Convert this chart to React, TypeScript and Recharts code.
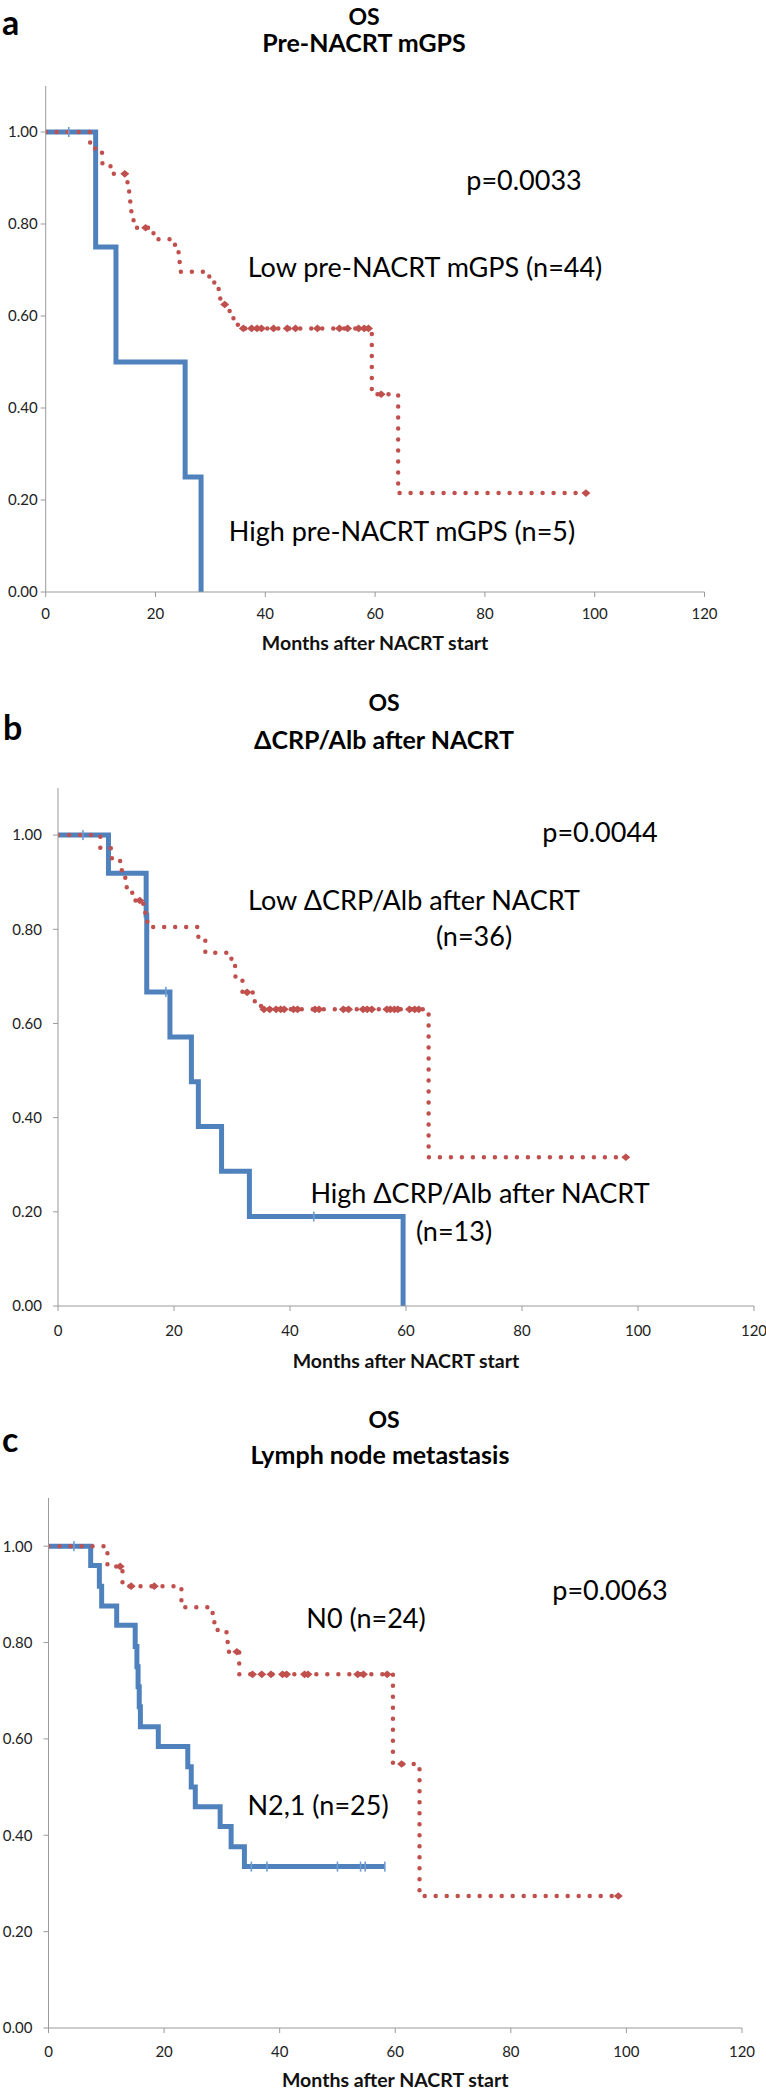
import React from 'react';
import { LineChart, Line, XAxis, YAxis } from 'recharts';

const BLUE = '#4F81BD';
const RED = '#C0504D';
const AXIS = '#9A9A9A';
const FONT = 'Lato, "Open Sans", sans-serif';

const yTicks = [0, 0.2, 0.4, 0.6, 0.8, 1.0];
const xTicks = [0, 20, 40, 60, 80, 100, 120];

// a: pre-NACRT mGPS  -- [month, survival after the event]
const aHighEvents = [[0, 1], [9.1, 0.75], [12.8, 0.5], [25.4, 0.25], [28.3, 0]];
const aHighCensor = [4.2];
const aLowEvents = [
    [0, 1], [8.0, 0.977], [9.0, 0.955], [10.3, 0.932], [11.8, 0.909], [14.9, 0.886], [15.2, 0.863],
    [15.4, 0.84], [15.6, 0.815], [16.0, 0.792], [19.1, 0.78], [20.0, 0.767], [23.1, 0.755], [24.0, 0.743],
    [24.2, 0.72], [24.4, 0.696], [29.8, 0.673], [30.8, 0.659], [31.5, 0.647], [31.8, 0.625], [33.1, 0.612],
    [33.5, 0.598], [34.2, 0.585], [35.0, 0.573], [59.4, 0.43], [64.2, 0.215]
];
const aLowCensor = [14.4, 18.2, 32.6, 36, 37.5, 38.5, 39.3, 41.5, 44, 45.5, 49.5, 53.5, 55, 57, 58, 58.8, 61.1, 98.4];

// b: delta CRP/Alb after NACRT
const bHighEvents = [
    [0, 1], [8.7, 0.919], [15.2, 0.83], [15.3, 0.667], [19.3, 0.571], [23.0, 0.476], [24.2, 0.381],
    [28.2, 0.286], [33.0, 0.19], [59.5, 0]
];
const bHighCensor = [4.3, 18.6, 44.1];
const bLowEvents = [
    [0, 1], [7.3, 0.972], [9.3, 0.945], [11.0, 0.917], [11.6, 0.889], [12.8, 0.861], [14.7, 0.835],
    [15.4, 0.805], [24.2, 0.778], [25.4, 0.75], [29.9, 0.722], [30.6, 0.694], [31.8, 0.666], [33.8, 0.647],
    [35.0, 0.63], [63.9, 0.316]
];
const bLowCensor = [
    14.1, 32.6, 35.5, 36.5, 37.6, 38.4, 39, 40.6, 41.3, 44.3, 45, 49.2, 50.1, 52.6, 53.3, 54.1, 56.7,
    57.3, 58, 58.6, 60.6, 61.5, 62.2, 97.9
];

// c: lymph node metastasis
const cHighEvents = [
    [0, 1], [7.3, 0.96], [8.8, 0.917], [9.2, 0.876], [11.8, 0.836], [15.0, 0.792], [15.3, 0.75],
    [15.5, 0.708], [15.7, 0.667], [15.9, 0.625], [19.0, 0.584], [24.1, 0.542], [24.7, 0.5], [25.4, 0.459],
    [29.7, 0.418], [31.6, 0.376], [33.9, 0.335]
];
const cHighCensor = [4.4, 35.1, 37.8, 50.0, 54.0, 54.8, 58.2];
const cLowEvents = [
    [0, 1], [10.2, 0.958], [12.8, 0.917], [23.0, 0.873], [28.4, 0.85], [28.7, 0.826], [30.8, 0.805],
    [31.0, 0.781], [33.0, 0.734], [59.6, 0.548], [64.2, 0.274]
];
const cLowCensor = [12.4, 14.3, 18.3, 32.6, 35.3, 36.9, 38.5, 40.5, 41.2, 44.3, 44.9, 53.5, 54.5, 58.6, 61.1, 98.6];

type Pt = { t: number; s: number; c: boolean };

// merge events and censor times into one step series
const buildCurve = (events: number[][], censor: number[]): Pt[] => {
    const pts: Pt[] = events.map(([t, s]) => ({ t, s, c: false }));
    censor.forEach((t) => {
        let s = 1;
        events.forEach(([et, es]) => {
            if (et <= t) s = es;
        });
        pts.push({ t, s, c: true });
    });
    return pts.sort((p, q) => p.t - q.t);
};

const redDot = (p: any) => {
    const { cx, cy, payload, index } = p;
    if (!payload || !payload.c) return <g key={`r${index}`} />;
    return (
        <path
            key={`r${index}`}
            d={`M${cx - 4.5},${cy} L${cx},${cy - 3.8} L${cx + 4.5},${cy} L${cx},${cy + 3.8} Z`}
            fill={RED}
        />
    );
};

const blueDot = (p: any) => {
    const { cx, cy, payload, index } = p;
    if (!payload || !payload.c) return <g key={`b${index}`} />;
    return <rect key={`b${index}`} x={cx - 0.8} y={cy - 5} width={1.6} height={10} fill="#6F9BD1" />;
};

interface PanelProps {
    top: number;
    plotTop: number;
    plotH: number;
    left: number;
    right: number;
    xAxisH: number;
    bottom: number;
    yGap: number;
    xGap: number;
    low: Pt[];
    high: Pt[];
}

const KMPanel: React.FC<PanelProps> = ({ top, plotTop, plotH, left, right, xAxisH, bottom, yGap, xGap, low, high }) => {
    const height = plotTop + plotH + xAxisH + bottom;
    return (
        <div style={{ position: 'absolute', left: 0, top, width: 766, height }}>
            <LineChart width={766} height={height} margin={{ top: plotTop, right: 766 - right, bottom, left: 0 }}>
                <XAxis
                    dataKey="t"
                    type="number"
                    domain={[0, 120]}
                    ticks={xTicks}
                    interval={0}
                    allowDataOverflow
                    height={xAxisH}
                    axisLine={{ stroke: AXIS }}
                    tickLine={{ stroke: AXIS }}
                    tickSize={5}
                    tickMargin={xGap}
                    tick={{ fill: '#222222', fontSize: 15, fontFamily: FONT }}
                    label={{
                        value: 'Months after NACRT start',
                        position: 'insideBottom',
                        offset: 0,
                        fill: '#111111',
                        fontSize: 19.5,
                        fontWeight: 700,
                        fontFamily: FONT
                    }}
                />
                <YAxis
                    type="number"
                    domain={[0, 1.1]}
                    ticks={yTicks}
                    interval={0}
                    allowDataOverflow
                    width={left}
                    axisLine={{ stroke: AXIS }}
                    tickLine={{ stroke: AXIS }}
                    tickSize={5}
                    tickMargin={yGap}
                    tickFormatter={(v: number) => v.toFixed(2)}
                    tick={{ fill: '#222222', fontSize: 15, fontFamily: FONT }}
                />
                <Line
                    data={high}
                    dataKey="s"
                    type="stepAfter"
                    stroke={BLUE}
                    strokeWidth={5}
                    dot={blueDot}
                    activeDot={false}
                    isAnimationActive={false}
                />
                <Line
                    data={low}
                    dataKey="s"
                    type="stepAfter"
                    stroke={RED}
                    strokeWidth={4.5}
                    strokeDasharray="0 11"
                    strokeLinecap="round"
                    dot={redDot}
                    activeDot={false}
                    isAnimationActive={false}
                />
            </LineChart>
        </div>
    );
};

const txt = (x: number, y: number, s: string, size: number, bold = false, anchor = 'middle') => (
    <text
        key={s + y}
        x={x}
        y={y}
        fontSize={size}
        fontWeight={bold ? 700 : 400}
        textAnchor={anchor as any}
        fill="#000000"
        fontFamily={FONT}
    >
        {s}
    </text>
);

export default function App() {
    return (
        <div style={{ position: 'absolute', left: 0, top: 0, width: 766, height: 2091, background: '#ffffff' }}>
            <KMPanel
                top={0} plotTop={86} plotH={506} left={45.7} right={704.5} xAxisH={58} bottom={6}
                yGap={3} xGap={11}
                low={buildCurve(aLowEvents, aLowCensor)} high={buildCurve(aHighEvents, aHighCensor)}
            />
            <KMPanel
                top={778} plotTop={10} plotH={518} left={58} right={754} xAxisH={62} bottom={6}
                yGap={11} xGap={14}
                low={buildCurve(bLowEvents, bLowCensor)} high={buildCurve(bHighEvents, bHighCensor)}
            />
            <KMPanel
                top={1488} plotTop={10} plotH={530} left={48.5} right={742} xAxisH={59} bottom={3}
                yGap={11} xGap={13}
                low={buildCurve(cLowEvents, cLowCensor)} high={buildCurve(cHighEvents, cHighCensor)}
            />
            <svg width={766} height={2091} style={{ position: 'absolute', left: 0, top: 0, pointerEvents: 'none' }}>
                {txt(2, 35, 'a', 34, true, 'start')}
                {txt(364, 25, 'OS', 23, true)}
                {txt(364, 52, 'Pre-NACRT mGPS', 25, true)}
                {txt(524, 190, 'p=0.0033', 27)}
                {txt(425, 277, 'Low pre-NACRT mGPS (n=44)', 27)}
                {txt(402, 541, 'High pre-NACRT mGPS (n=5)', 27)}

                {txt(3, 740, 'b', 34, true, 'start')}
                {txt(384, 711, 'OS', 23, true)}
                {txt(384, 749, 'ΔCRP/Alb after NACRT', 25, true)}
                {txt(600, 842, 'p=0.0044', 27)}
                {txt(414, 910, 'Low ΔCRP/Alb after NACRT', 27)}
                {txt(474, 946, '(n=36)', 27)}
                {txt(480, 1203, 'High ΔCRP/Alb after NACRT', 27)}
                {txt(454, 1241, '(n=13)', 27)}

                {txt(2, 1452, 'c', 34, true, 'start')}
                {txt(384, 1428, 'OS', 23, true)}
                {txt(380, 1464, 'Lymph node metastasis', 25, true)}
                {txt(610, 1600, 'p=0.0063', 27)}
                {txt(366, 1628, 'N0 (n=24)', 27)}
                {txt(318, 1815, 'N2,1 (n=25)', 27)}
            </svg>
        </div>
    );
}
